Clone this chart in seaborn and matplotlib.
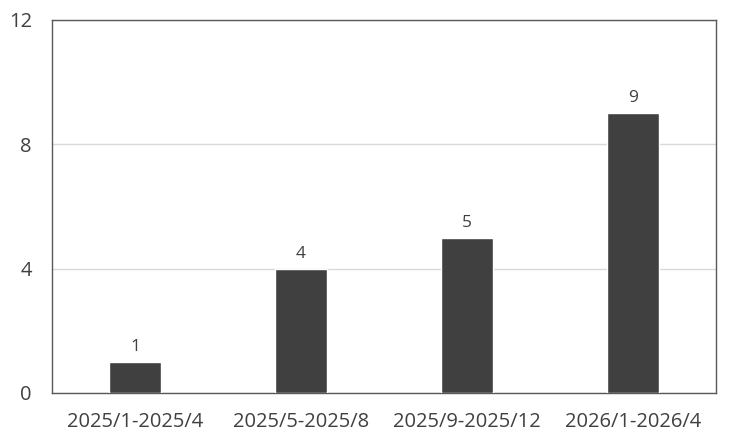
import matplotlib
matplotlib.use("Agg")
import matplotlib.pyplot as plt
import seaborn as sns
import pandas as pd

periods = ["2025/1-2025/4", "2025/5-2025/8", "2025/9-2025/12", "2026/1-2026/4"]
counts = [1, 4, 5, 9]
y_ticks = [0, 4, 8, 12]

sns.set_theme(style="white")
plt.rcParams['font.family'] = ['Open Sans', 'DejaVu Sans']

df = pd.DataFrame({'period': periods, 'count': counts})

fig = plt.figure(figsize=(7.32, 4.44), dpi=100)
ax = fig.add_axes([0.071, 0.115, 0.907, 0.840])
sns.barplot(data=df, x='period', y='count', color='#404040', saturation=1,
            width=0.315, ax=ax, zorder=3)
for c in ax.containers:
    ax.bar_label(c, padding=5, fontsize=12.5, color='#404040')

ax.set_ylim(0, 12)
ax.set_xlim(-0.5, 3.5)
ax.set_yticks(y_ticks)
ax.yaxis.grid(True, color='#d9d9d9', linewidth=1, zorder=0)
ax.set_xlabel('')
ax.set_ylabel('')
ax.tick_params(axis='both', length=0, labelsize=14.5, labelcolor='#404040')
ax.tick_params(axis='x', pad=14)
ax.tick_params(axis='y', pad=14.5)
for s in ax.spines.values():
    s.set_color('#595959')
    s.set_linewidth(1)

fig.savefig('out.png', dpi=100)
